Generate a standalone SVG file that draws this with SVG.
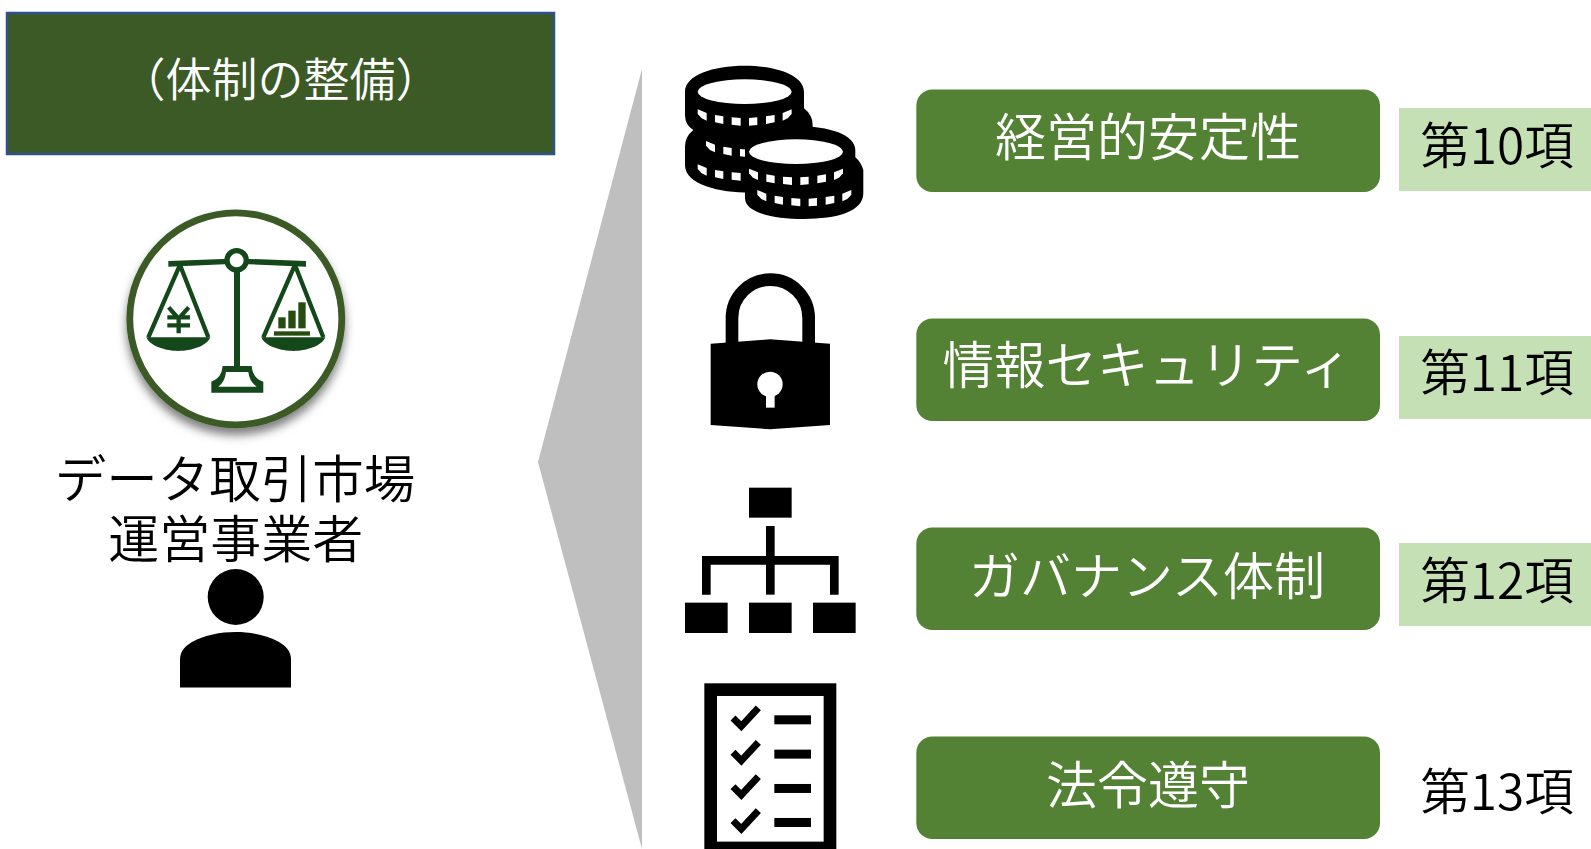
<svg xmlns="http://www.w3.org/2000/svg" xmlns:xlink="http://www.w3.org/1999/xlink" width="1591" height="849" viewBox="0 0 1591 849">
<style>
text{font-family:"Noto Sans CJK JP","Noto Sans",sans-serif;text-anchor:middle;font-weight:350}
.w{fill:#fff}.k{fill:#000}
.pill{fill:#548235}.tag{fill:#c5e0b4}
.sc{fill:#14481a}.scl{fill:none;stroke:#14481a}
</style>
<defs>
<filter id="sh" x="-20%" y="-20%" width="140%" height="140%"><feDropShadow dx="0" dy="7" stdDeviation="5" flood-color="#000" flood-opacity=".5"/></filter>
<g id="ticks" fill="#fff">
<polygon points="83,178 110,189 110,212 95,205 83,192"/>
<polygon points="135,195 160,199 160,222 135,217"/>
<polygon points="185,202 212,204 212,227 185,224"/>
<polygon points="237,204 262,202 262,225 237,227"/>
<polygon points="288,199 314,195 314,217 288,222"/>
<polygon points="338,189 365,178 365,192 353,205 338,212"/>
</g>
<g id="pan">
<path class="scl" stroke-width="13" d="M210 195L115 412M210 195L295 412"/>
<path class="sc" d="M109 412H301C290 440 240 453 205 453C170 453 120 440 109 412Z"/>
</g>
<path id="check" d="M189 744L214 769L265 714" fill="none" stroke="#000" stroke-width="21"/>
</defs>
<g id="header"><rect x="7" y="13" width="547" height="141" fill="#3c5a26" stroke="#2f528f" stroke-width="2.5"/>
<text class="w" x="280.5" y="96" font-size="46">（体制の整備）</text></g>
<g id="operator">
<circle cx="235.8" cy="318.8" r="106" fill="#fff" stroke="#3b5a27" stroke-width="6.8" filter="url(#sh)"/>
<g transform="translate(110 200) scale(.3333)">
<polygon class="sc" points="175,183 360,176 400,176 588,183 588,200 400,192 360,192 175,200"/>
<rect class="sc" x="372" y="200" width="18" height="300"/>
<circle cx="380" cy="181" r="29" fill="#fff" stroke="#14481a" stroke-width="16"/>
<path class="sc" fill-rule="evenodd" d="M338 498H425Q428 535 460 545V578H304V545Q335 535 338 498ZM348 516Q345 545 325 560H440Q418 545 415 516Z"/>
<use xlink:href="#pan" href="#pan"/>
<use xlink:href="#pan" href="#pan" x="345"/>
<path class="scl" stroke-width="13" d="M176 322L206 356L236 322M206 350V400M172 352H240M172 376H240"/>
<g fill="#264d0f"><rect x="505" y="352" width="22" height="33"/><rect x="535" y="332" width="22" height="53"/><rect x="565" y="307" width="22" height="78"/><rect x="492" y="394" width="108" height="13"/></g>
</g>
<text class="k" font-size="51"><tspan x="235" y="498" font-size="51.5">データ取引市場</tspan><tspan x="235.7" y="558">運営事業者</tspan></text>
<circle cx="235.7" cy="597" r="28"/>
<path d="M180 687.5V660C180 650 186 646 192 642C205 635 220 632 235.7 632C251 632 266 635 279 642C285 646 291 650 291 660V687.5Z"/>
</g>
<g id="bracket"><polygon points="642,69 538,462 642,849" fill="#bfbfbf"/></g>
<g id="icon-coins" transform="translate(670 50) scale(.3333)">
<path d="M45 125C45 75 130 47 224 47C318 47 402 75 402 125V175Q428 195 428 225V400H240V428C150 428 45 405 45 345V290Q45 260 70 240Q45 225 45 195Z"/>
<use xlink:href="#ticks" href="#ticks" x="25" y="95"/>
<use xlink:href="#ticks" href="#ticks" y="165"/>
<path d="M225 400V445C225 485 300 507 402 507C500 507 580 485 580 430V360Q572 335 556 322V300C556 255 480 228 378 228C290 228 225 255 225 300Z"/>
<ellipse cx="224" cy="125" rx="141" ry="37" fill="#fff"/>
<use xlink:href="#ticks" href="#ticks"/>
<ellipse cx="378" cy="305" rx="141" ry="37" fill="#fff"/>
<use xlink:href="#ticks" href="#ticks" x="154" y="178"/>
<use xlink:href="#ticks" href="#ticks" x="179" y="242"/>
</g>
<g id="icon-lock" transform="translate(670 50) scale(.3333)">
<path d="M186 885V804A115 115 0 0 1 416 804V885" fill="none" stroke="#000" stroke-width="38"/>
<path d="M122 881L300 868L480 881V1125L300 1138L122 1125Z"/>
<circle cx="300" cy="1003" r="38" fill="#fff"/><rect x="288" y="1020" width="26" height="53" fill="#fff"/>
</g>
<g id="icon-org" transform="translate(670 470) scale(.3333)">
<rect x="237" y="53" width="128" height="90"/><rect x="288" y="168" width="26" height="206"/>
<path d="M109 374V271H493V374" fill="none" stroke="#000" stroke-width="26"/>
<rect x="45" y="398" width="128" height="91"/><rect x="237" y="398" width="128" height="91"/><rect x="429" y="398" width="128" height="91"/>
</g>
<g id="icon-list" transform="translate(670 470) scale(.3333)">
<rect x="122" y="659" width="358" height="475" fill="#fff" stroke="#000" stroke-width="38"/>
<use xlink:href="#check" href="#check"/><use xlink:href="#check" href="#check" y="103"/><use xlink:href="#check" href="#check" y="206"/><use xlink:href="#check" href="#check" y="308"/>
<rect x="313" y="736" width="110" height="27"/><rect x="313" y="839" width="110" height="27"/><rect x="313" y="942" width="110" height="27"/><rect x="313" y="1044" width="110" height="27"/>
</g>
<g id="item-10"><rect class="pill" x="916.3" y="89.5" width="463.7" height="102.5" rx="16"/><text class="w" x="1148" y="156" font-size="51">経営的安定性</text>
<rect class="tag" x="1399" y="108" width="192" height="83"/><text class="k" x="1497" y="164" font-size="49.5">第10項</text></g>
<g id="item-11"><rect class="pill" x="916.3" y="318.5" width="463.7" height="102.5" rx="16"/><text class="w" x="1147" y="384" font-size="51.5">情報セキュリティ</text>
<rect class="tag" x="1399" y="336" width="192" height="83"/><text class="k" x="1497" y="391" font-size="49.5">第11項</text></g>
<g id="item-12"><rect class="pill" x="916.3" y="527.5" width="463.7" height="102.5" rx="16"/><text class="w" x="1147" y="595" font-size="51">ガバナンス体制</text>
<rect class="tag" x="1399" y="543" width="192" height="83"/><text class="k" x="1497" y="599" font-size="49.5">第12項</text></g>
<g id="item-13"><rect class="pill" x="916.3" y="736.5" width="463.7" height="102.5" rx="16"/><text class="w" x="1148" y="804" font-size="51">法令遵守</text>
<text class="k" x="1497" y="810" font-size="49.5">第13項</text></g>
<g id="connectors"/>
</svg>
